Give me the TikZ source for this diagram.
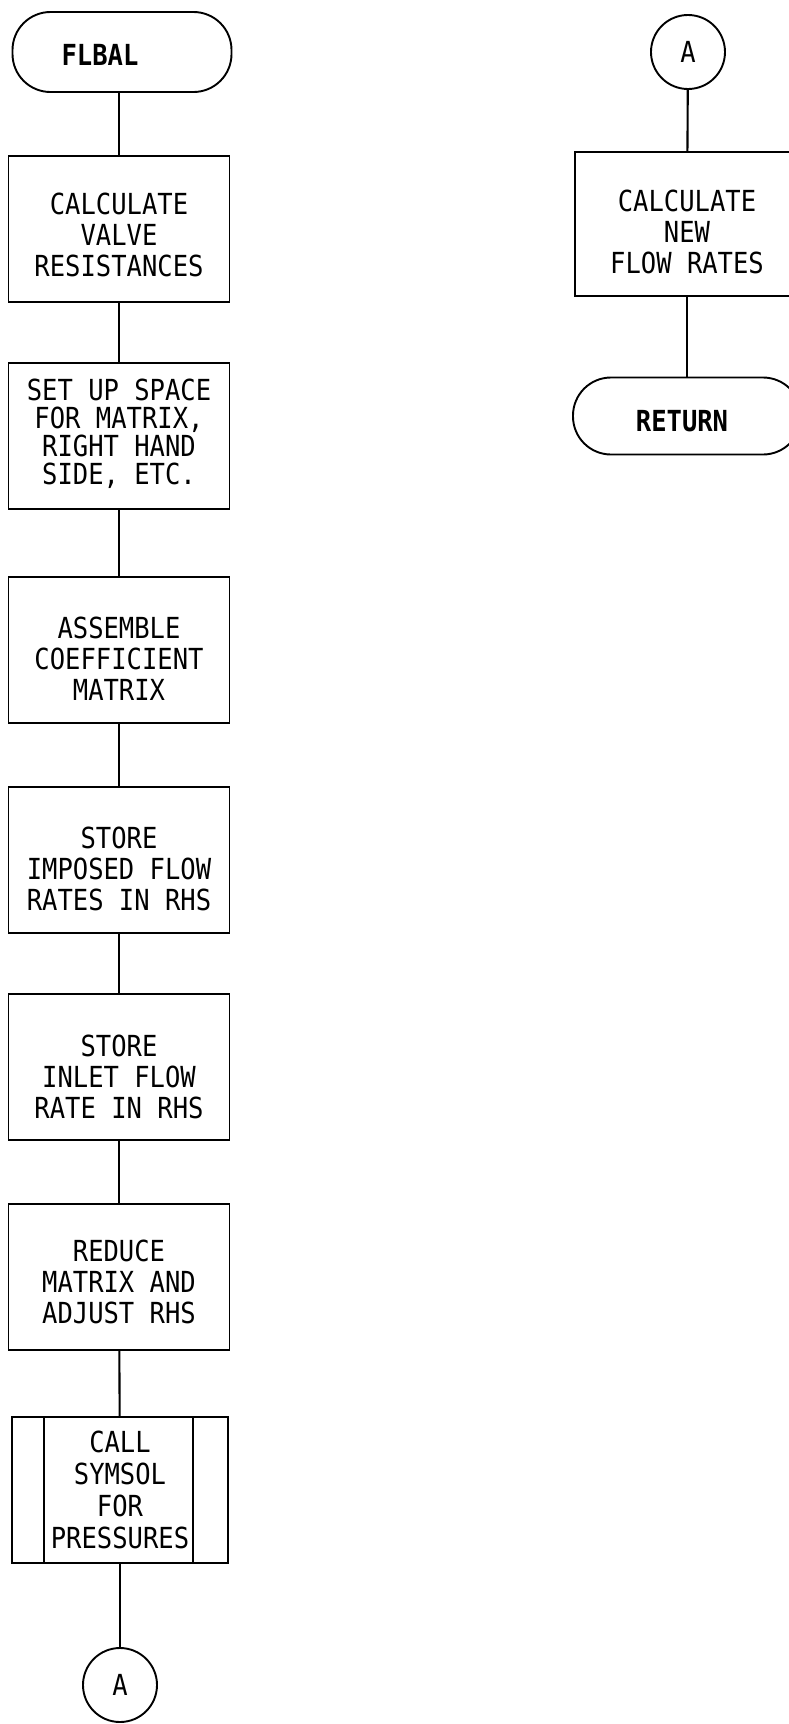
\documentclass[tikz,border=0pt]{standalone}
\usepackage{fontspec}
\newfontfamily\chartfont{DejaVu Sans Mono}[FakeStretch=0.88]
\begin{document}
\begin{tikzpicture}[x=1pt,y=-1pt,
  every node/.style={font=\chartfont\fontsize{29}{31}\selectfont, align=center, inner sep=0pt},
  procbox/.style={draw, line width=1.9pt, rectangle, minimum width=221pt, minimum height=146pt},
  termbox/.style={draw, line width=1.9pt, rectangle, rounded corners=38pt, minimum width=222pt, minimum height=79pt},
  connbox/.style={draw, line width=1.9pt, circle, minimum size=74pt},
  flow/.style={line width=2.1pt}
]
\clip (0,0) rectangle (789,1724);
\fill[white] (0,0) rectangle (789,1724);

% left column
\node[termbox, minimum width=219pt, minimum height=80pt] (start) at (122,52) {};
\node (startt) at ([xshift=-22pt,yshift=-3pt]start.center) {\bfseries FLBAL};
\node[procbox] (b1) at (119,229) {};
\node (b1t) at ([yshift=-6pt]b1.center) {CALCULATE\\VALVE\\RESISTANCES};
\node[procbox] (b2) at (119,436) {};
\node[font=\chartfont\fontsize{29}{28}\selectfont] (b2t) at ([yshift=2pt]b2.center) {SET UP SPACE\\FOR MATRIX,\\RIGHT HAND\\SIDE, ETC.};
\node[procbox] (b3) at (119,650) {};
\node (b3t) at ([yshift=-9pt]b3.center) {ASSEMBLE\\COEFFICIENT\\MATRIX};
\node[procbox] (b4) at (119,860) {};
\node (b4t) at ([yshift=-9pt]b4.center) {STORE\\IMPOSED FLOW\\RATES IN RHS};
\node[procbox] (b5) at (119,1067) {};
\node (b5t) at ([yshift=-10pt]b5.center) {STORE\\INLET FLOW\\RATE IN RHS};
\node[procbox] (b6) at (119,1277) {};
\node (b6t) at ([yshift=-5pt]b6.center) {REDUCE\\MATRIX AND\\ADJUST RHS};
\node[procbox, minimum width=216pt] (b7) at (120,1490) {};
\node[font=\chartfont\fontsize{29}{32}\selectfont] (b7t) at ([yshift=0pt]b7.center) {CALL\\SYMSOL\\FOR\\PRESSURES};
\draw[line width=1.9pt] ([xshift=33pt]b7.north west) -- ([xshift=33pt]b7.south west);
\draw[line width=1.9pt] ([xshift=-36pt]b7.north east) -- ([xshift=-36pt]b7.south east);
\node[connbox] (a1) at (120,1685) {A};

\draw[flow] (b1.north) -- (b1.north |- start.south);
\draw[flow] (b1) -- (b2);
\draw[flow] (b2) -- (b3);
\draw[flow] (b3) -- (b4);
\draw[flow] (b4) -- (b5);
\draw[flow] (b5) -- (b6);
\draw[flow] (b6) -- (b7);
\draw[flow] (b7) -- (a1);

% right column
\node[connbox] (a2) at (688,52) {A};
\node[procbox, minimum width=224pt, minimum height=144pt] (r1) at (687,224) {};
\node (r1t) at ([yshift=-8pt]r1.center) {CALCULATE\\NEW\\FLOW RATES};
\node[termbox, minimum width=228pt, minimum height=77pt] (ret) at (687,416) {};
\node (rett) at ([xshift=-5pt,yshift=-5pt]ret.center) {\bfseries RETURN};
\draw[flow] (a2) -- (r1);
\draw[flow] (r1) -- (ret);
\end{tikzpicture}
\end{document}
